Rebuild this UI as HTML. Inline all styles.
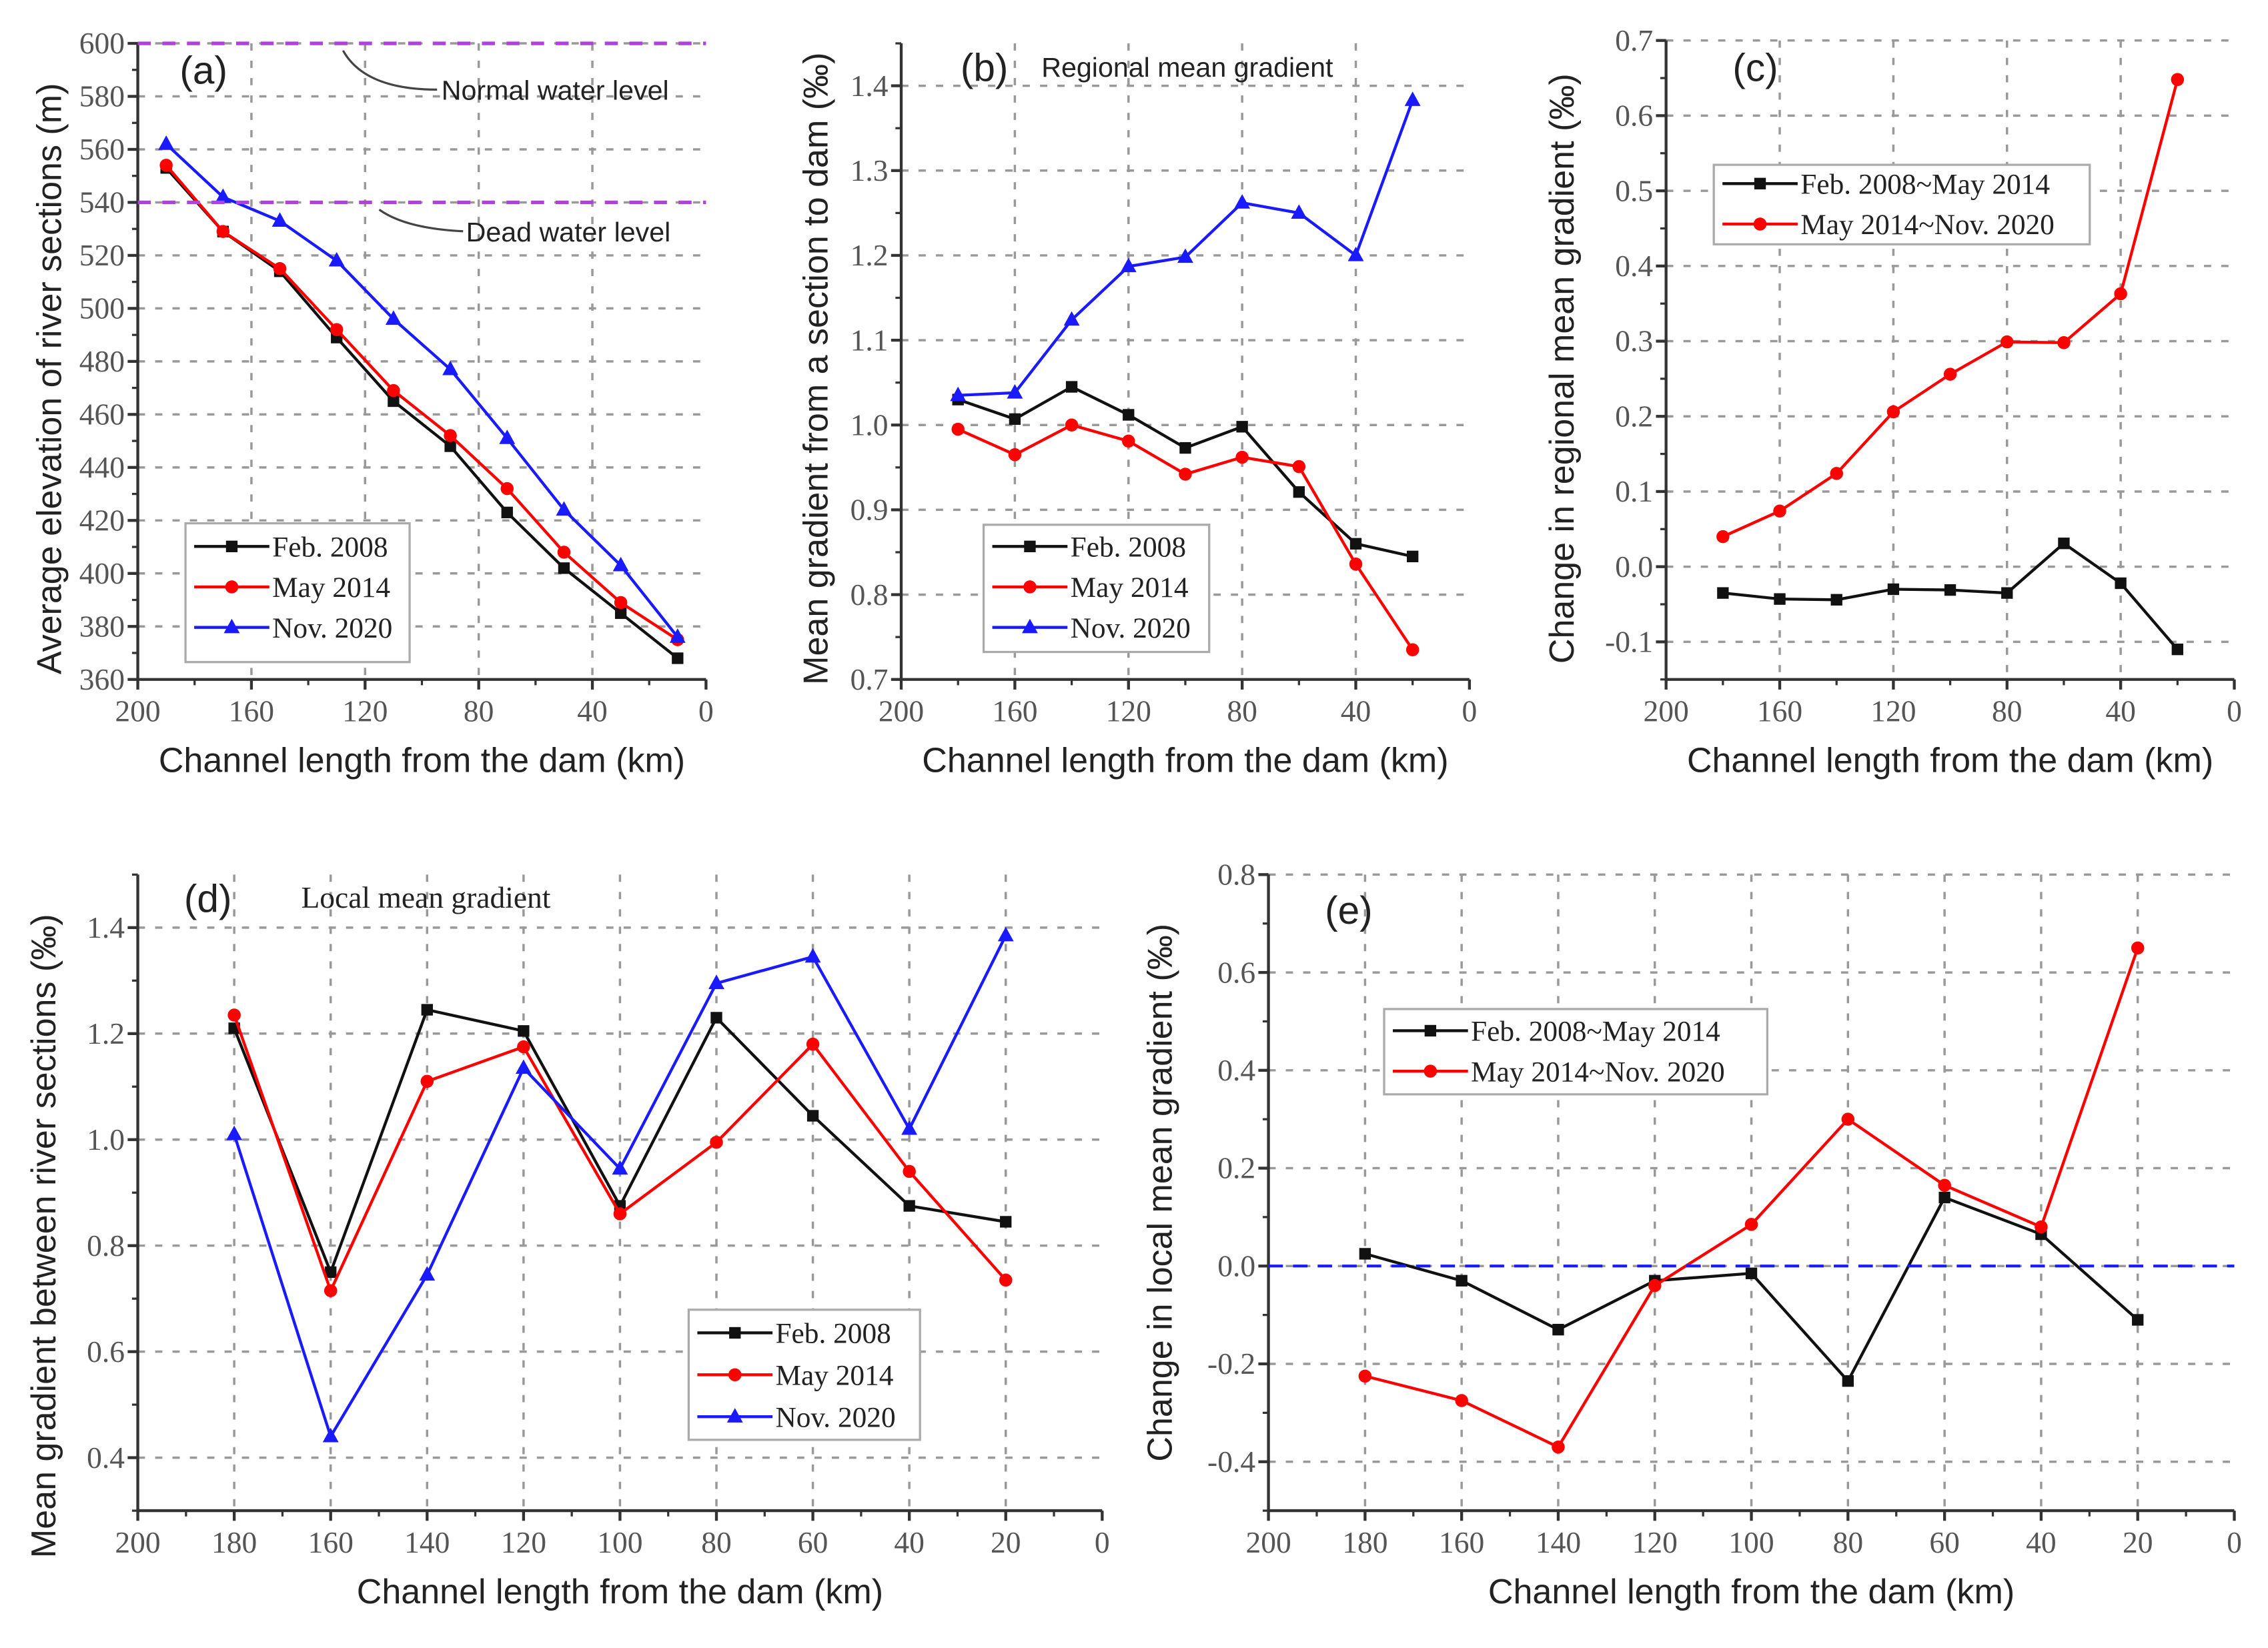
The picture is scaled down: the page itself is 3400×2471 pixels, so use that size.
<!DOCTYPE html>
<html><head><meta charset="utf-8"><style>
html,body{margin:0;padding:0;background:#fff;}
svg{display:block;}
.tk{font-family:"Liberation Serif",serif;font-size:21px;fill:#555;}
.tt{font-family:"Liberation Sans",sans-serif;font-size:24px;fill:#222;}
.lg{font-family:"Liberation Serif",serif;font-size:20px;fill:#222;}
</style></head><body>
<svg id="fig" width="3400" height="2471" viewBox="0 0 1568 1140" xmlns="http://www.w3.org/2000/svg">
<rect x="0" y="0" width="1568" height="1140" fill="#fff"/>
</svg>
<script>
// ---- data ----
const xA = [190,170,150,130,110,90,70,50,30,10];
const aFeb = [553,529,514,489,465,448,423,402,385,368];
const aMay = [554,529,515,492,469,452,432,408,389,375];
const aNov = [562,542,533,518,496,477,451,424,403,376];
const xB = [180,160,140,120,100,80,60,40,20];
const bFeb = [1.03,1.007,1.045,1.012,0.973,0.998,0.921,0.86,0.845];
const bMay = [0.995,0.965,1.0,0.981,0.942,0.962,0.951,0.836,0.735];
const bNov = [1.035,1.038,1.124,1.187,1.198,1.262,1.25,1.2,1.383];
const cFM = [-0.035,-0.043,-0.044,-0.030,-0.031,-0.035,0.031,-0.022,-0.11];
const cMN = [0.04,0.074,0.124,0.206,0.256,0.299,0.298,0.363,0.648];
const dFeb = [1.21,0.75,1.245,1.205,0.875,1.23,1.045,0.875,0.845];
const dMay = [1.235,0.715,1.11,1.175,0.86,0.995,1.18,0.94,0.735];
const dNov = [1.01,0.44,0.745,1.135,0.945,1.295,1.345,1.02,1.385];
const eFM = [0.025,-0.03,-0.13,-0.03,-0.015,-0.235,0.14,0.065,-0.11];
const eMN = [-0.225,-0.275,-0.37,-0.04,0.085,0.3,0.165,0.08,0.65];
const aYTicks = [360,380,400,420,440,460,480,500,520,540,560,580,600];
const bYTicks = [0.7,0.8,0.9,1.0,1.1,1.2,1.3,1.4];
const cYTicks = [-0.1,0.0,0.1,0.2,0.3,0.4,0.5,0.6,0.7];
const dYTicks = [0.4,0.6,0.8,1.0,1.2,1.4];
const eYTicks = [-0.4,-0.2,0.0,0.2,0.4,0.6,0.8];
const topXTicks = [200,160,120,80,40,0];
const botXTicks = [200,180,160,140,120,100,80,60,40,20,0];
const waterLevels = [600,540];

const NS="http://www.w3.org/2000/svg";
const svg=document.getElementById('fig');
function mk(tag,attrs,parent,txt){const e=document.createElementNS(NS,tag);for(const k in attrs)e.setAttribute(k,attrs[k]);if(txt!==undefined)e.textContent=txt;(parent||svg).appendChild(e);return e;}
const COL={k:'#111',r:'#f00',b:'#1a1aff'};

function marker(g,type,x,y,c){
  let m;
  if(type==='s'){m=mk('rect',{x:x-4,y:y-4,width:8,height:8,fill:c},g);}
  else if(type==='c'){m=mk('circle',{cx:x,cy:y,r:4.5,fill:c},g);}
  else {m=mk('polygon',{points:`${x},${y-6} ${x-5.5},${y+4} ${x+5.5},${y+4}`,fill:c},g);}
  
  
}

function panel(p){
  const g=mk('g',{});
  
  
  const sx=v=>p.x0+(p.xmax-v)/(p.xmax-p.xmin)*(p.x1-p.x0);
  const sy=v=>p.yb-(v-p.ymin)/(p.ymax-p.ymin)*(p.yb-p.yt);
  p.sx=sx;p.sy=sy;
  p.yticks.forEach(v=>{const y=sy(v);if(Math.abs(y-p.yb)<1)return;
    const l=mk('line',{x1:p.x0,x2:p.x1,y1:y,y2:y,stroke:'#999','stroke-width':1.6,'stroke-dasharray':'5 7'},g);
    });
  p.xticks.forEach(v=>{const x=sx(v);if(v===p.xmin||v===p.xmax)return;
    const l=mk('line',{x1:x,x2:x,y1:p.yt,y2:p.yb,stroke:'#999','stroke-width':1.6,'stroke-dasharray':'5 7'},g);
    });
  const ya=mk('line',{x1:p.x0,x2:p.x0,y1:p.yt,y2:p.yb,stroke:'#333','stroke-width':2},g);
  
  const xa=mk('line',{x1:p.x0,x2:p.x1,y1:p.yb,y2:p.yb,stroke:'#333','stroke-width':2},g);
  
  for(let i=0;i<p.yticks.length;i++){const v=p.yticks[i];const y=sy(v);
    mk('line',{x1:p.x0-7,x2:p.x0,y1:y,y2:y,stroke:'#333','stroke-width':2},g);
    const t=mk('text',{x:p.x0-9,y:y+7,'text-anchor':'end',class:'tk'},g,p.yfmt(v));
    
    const step=p.yticks[1]-p.yticks[0];const ym=sy(v+step/2);
    if(ym>=p.yt-0.5) mk('line',{x1:p.x0-4,x2:p.x0,y1:ym,y2:ym,stroke:'#333','stroke-width':1.5},g);
    if(i===0){const yb=sy(v-step/2);if(yb<=p.yb+0.5&&yb>sy(v)+2)mk('line',{x1:p.x0-4,x2:p.x0,y1:yb,y2:yb,stroke:'#333','stroke-width':1.5},g);}
  }
  p.xticks.forEach(v=>{const x=sx(v);
    mk('line',{x1:x,x2:x,y1:p.yb,y2:p.yb+7,stroke:'#333','stroke-width':2},g);
    const t=mk('text',{x:x,y:p.yb+29,'text-anchor':'middle',class:'tk'},g,String(v));
    });
  for(let v=p.xmin;v<p.xmax;v+=p.xminor){mk('line',{x1:sx(v+p.xminor/2),x2:sx(v+p.xminor/2),y1:p.yb,y2:p.yb+4,stroke:'#333','stroke-width':1.5},g);}
  const xt=mk('text',{x:(p.x0+p.x1)/2,y:p.yb+64,'text-anchor':'middle',class:'tt'},g,'Channel length from the dam (km)');
  
  const yt=mk('text',{x:0,y:0,'text-anchor':'middle',class:'tt',transform:`translate(${p.ytx},${p.ytc}) rotate(-90)`},g,p.ytitle);
  
  p.series.forEach(s=>{
    const sg=mk('g',{},g);
    const pts=s.ys.map((v,i)=>sx(s.xs[i])+','+sy(v)).join(' ');
    mk('polyline',{points:pts,fill:'none',stroke:s.c,'stroke-width':2},sg);
    s.ys.forEach((v,i)=>marker(sg,s.m,sx(s.xs[i]),sy(v),s.c));
  });
  const L=p.leg;const lg=mk('g',{},g);
  mk('rect',{x:L.x,y:L.y,width:L.w,height:L.h,fill:'#fff',stroke:'#aaa','stroke-width':1.5},lg);
  p.series.forEach((s,i)=>{const y=L.y+L.first+i*L.dy;
    const e=mk('g',{},lg);
    mk('line',{x1:L.x+6,x2:L.x+58,y1:y,y2:y,stroke:s.c,'stroke-width':2},e);
    marker(e,s.m,L.x+32,y,s.c);
    mk('text',{x:L.x+60,y:y+7,class:'lg'},e,s.label);});
  return p;
}
const f1=v=>v.toFixed(1);
const pa=panel({name:'panel-a',x0:95,x1:488,xmin:0,xmax:200,yt:30,yb:470,ymin:360,ymax:600,yticks:aYTicks,yfmt:v=>String(v),xticks:topXTicks,xminor:40,
 ytitle:'Average elevation of river sections (m)',ytx:42,ytc:262,
 series:[{name:'series-feb-2008',xs:xA,ys:aFeb,c:COL.k,m:'s',label:'Feb. 2008'},{name:'series-may-2014',xs:xA,ys:aMay,c:COL.r,m:'c',label:'May 2014'},{name:'series-nov-2020',xs:xA,ys:aNov,c:COL.b,m:'t',label:'Nov. 2020'}],
 leg:{x:128,y:362,w:155,h:96,first:16,dy:28}});
waterLevels.forEach(v=>{const l=mk('line',{x1:95,x2:488,y1:pa.sy(v),y2:pa.sy(v),stroke:'#b040e0','stroke-width':2.5,'stroke-dasharray':'9 8'});
 });
mk('text',{x:124,y:58,class:'tt',style:'font-size:27px'},svg,'(a)');
mk('path',{d:'M237,35 Q252,62 302,62',fill:'none',stroke:'#444','stroke-width':1.5});
mk('path',{d:'M262,145 Q280,158 320,160',fill:'none',stroke:'#444','stroke-width':1.5});
let t=mk('text',{x:305,y:69,class:'tt',style:'font-size:19px'},svg,'Normal water level');
t=mk('text',{x:322,y:167,class:'tt',style:'font-size:19px'},svg,'Dead water level');

panel({name:'panel-b',x0:623,x1:1016,xmin:0,xmax:200,yt:30,yb:470,ymin:0.7,ymax:1.45,yticks:bYTicks,yfmt:f1,xticks:topXTicks,xminor:40,
 ytitle:'Mean gradient from a section to dam (‰)',ytx:572,ytc:255,
 series:[{name:'series-feb-2008',xs:xB,ys:bFeb,c:COL.k,m:'s',label:'Feb. 2008'},{name:'series-may-2014',xs:xB,ys:bMay,c:COL.r,m:'c',label:'May 2014'},{name:'series-nov-2020',xs:xB,ys:bNov,c:COL.b,m:'t',label:'Nov. 2020'}],
 leg:{x:680,y:363,w:156,h:88,first:15,dy:28}});
mk('text',{x:664,y:56,class:'tt',style:'font-size:27px'},svg,'(b)');
mk('text',{x:720,y:53,class:'tt',style:'font-size:19px'},svg,'Regional mean gradient');

panel({name:'panel-c',x0:1152,x1:1545,xmin:0,xmax:200,yt:28,yb:470,ymin:-0.15,ymax:0.7,yticks:cYTicks,yfmt:f1,xticks:topXTicks,xminor:40,
 ytitle:'Change in regional mean gradient (‰)',ytx:1088,ytc:255,
 series:[{name:'series-2008-2014',xs:xB,ys:cFM,c:COL.k,m:'s',label:'Feb. 2008~May 2014'},{name:'series-2014-2020',xs:xB,ys:cMN,c:COL.r,m:'c',label:'May 2014~Nov. 2020'}],
 leg:{x:1185,y:114,w:260,h:55,first:13,dy:28}});
mk('text',{x:1198,y:56,class:'tt',style:'font-size:27px'},svg,'(c)');

panel({name:'panel-d',x0:95,x1:762,xmin:0,xmax:200,yt:605,yb:1045,ymin:0.3,ymax:1.5,yticks:dYTicks,yfmt:f1,xticks:botXTicks,xminor:20,
 ytitle:'Mean gradient between river sections (‰)',ytx:38,ytc:855,
 series:[{name:'series-feb-2008',xs:xB,ys:dFeb,c:COL.k,m:'s',label:'Feb. 2008'},{name:'series-may-2014',xs:xB,ys:dMay,c:COL.r,m:'c',label:'May 2014'},{name:'series-nov-2020',xs:xB,ys:dNov,c:COL.b,m:'t',label:'Nov. 2020'}],
 leg:{x:476,y:906,w:160,h:90,first:16,dy:29}});
mk('text',{x:127,y:631,class:'tt',style:'font-size:27px'},svg,'(d)');
mk('text',{x:208,y:628,class:'lg',style:'font-size:21px'},svg,'Local mean gradient');

const pe=panel({name:'panel-e',x0:877,x1:1545,xmin:0,xmax:200,yt:605,yb:1045,ymin:-0.5,ymax:0.8,yticks:eYTicks,yfmt:f1,xticks:botXTicks,xminor:20,
 ytitle:'Change in local mean gradient (‰)',ytx:810,ytc:825,
 series:[{name:'series-2008-2014',xs:xB,ys:eFM,c:COL.k,m:'s',label:'Feb. 2008~May 2014'},{name:'series-2014-2020',xs:xB,ys:eMN,c:COL.r,m:'c',label:'May 2014~Nov. 2020'}],
 leg:{x:957,y:698,w:265,h:59,first:15,dy:28}});
const zl=mk('line',{x1:877,x2:1545,y1:pe.sy(0),y2:pe.sy(0),stroke:'#1a1aff','stroke-width':2,'stroke-dasharray':'10 7'});

mk('text',{x:916,y:639,class:'tt',style:'font-size:27px'},svg,'(e)');
</script>
</body></html>
